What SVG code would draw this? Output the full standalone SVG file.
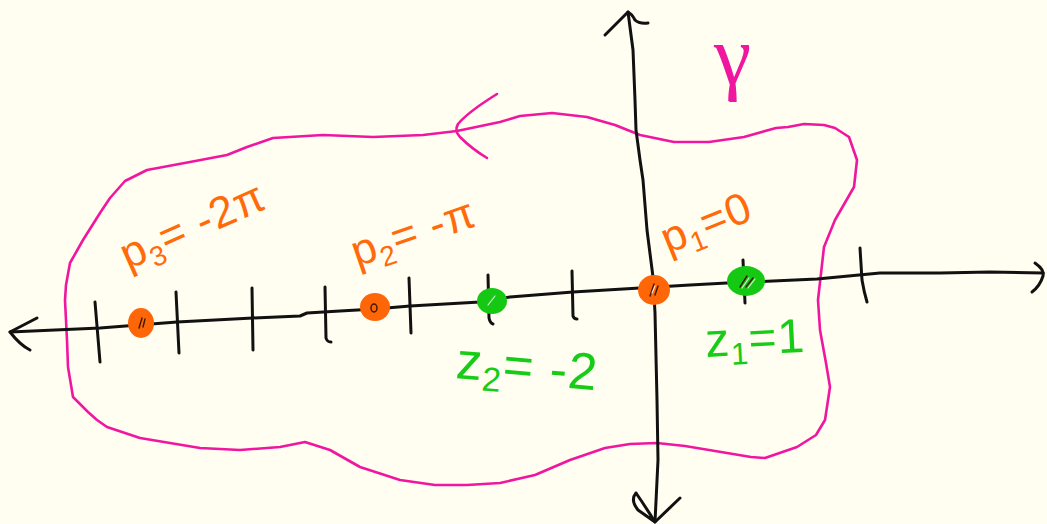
<svg xmlns="http://www.w3.org/2000/svg" width="1047" height="524" viewBox="0 0 1047 524">
<style>
.ink{fill:none;stroke:#111;stroke-width:3;stroke-linecap:round;stroke-linejoin:round}
.mag{fill:none;stroke:#F0169F;stroke-width:2.6;stroke-linecap:round;stroke-linejoin:round}
.or{fill:#FF6A0A;font-family:"Liberation Sans",Arial,sans-serif;font-size:44px}
.gr{fill:#16CC16;font-family:"Liberation Sans",Arial,sans-serif}
.dotO{fill:#FF6608}
.dotG{fill:#14C814}
.hatch{fill:none;stroke:#3a1a00;stroke-width:1.4;stroke-linecap:round}
.hatchW{fill:none;stroke:#ffffff;stroke-width:1.2;stroke-linecap:round;opacity:0.8}
</style>
<rect width="1047" height="524" fill="#FFFEF1"/>

<g id="contour">
<path class="mag" d="M776,128 L744,137 L709,142 L674,142 L640,135 L615,125 L587,117 L552,113 L520,116 L500,122 L457,131 L423,135 L373,137 L323,135 L273,138 L247,147 L227,155 L190,162 L147,170 L125,181 L110,198 L100,213 L83,240 L70,263 L66,285 L65,300 L67,340 L68,367 L73,397 L88,412 L97,420 L107,427 L140,438 L200,448 L240,450 L280,447 L305,442 L330,450 L360,467 L400,480 L435,485 L467,485 L500,483 L535,475 L570,460 L605,448 L630,444 L657,443 L685,446 L709,450 L751,457 L765,458 L797,447 L816,435 L825,420 L830,387 L826,363 L820,330 L818,300 L824,247 L835,220 L854,187 L857,160 L849,137 L835,128 L824,125 L804,124 L788,127 L776,128 Z"/>
<path class="mag" d="M497,94 Q468,112 458,124 Q454,131 460,137 Q472,149 487,158"/>
</g>

<g id="gamma">
<text x="714" y="84" font-family="Liberation Serif, serif" font-size="84" fill="#F0169F">γ</text>
</g>

<g id="axes">
<path class="ink" d="M10,332 L100,328 L177,322 L253,318 L300,316 L307,313 L340,311 L375,309 L410,306 L480,302 L510,297 L573,292 L640,288 L690,285 L727,283 L817,279 L880,273 L940,273 L990,272 L1043,273"/>
<path class="ink" d="M37,318 L10,332 Q20,345 30,350"/>
<path class="ink" d="M1035,263 Q1045,270 1043,276 Q1040,286 1032,292"/>
<path class="ink" d="M628,12 L633,50 L635,100 L636,130 L640,160 L643,180 L647,230 L653,277 L655,313 L657,400 L658,460 L655,522"/>
<path class="ink" d="M605,35 L628,12 Q632,14 635,20 Q639,24 648,23"/>
<path class="ink" d="M680,498 L655,522 M636,493 Q630,500 638,510 L655,522 Q645,506 636,493"/>
<g id="ticks">
<path class="ink" d="M95,302 L100,362"/>
<path class="ink" d="M176,292 L179,353"/>
<path class="ink" d="M252,288 L253,350"/>
<path class="ink" d="M325,287 L326,338 Q327,342 331,342"/>
<path class="ink" d="M409,278 L411,333"/>
<path class="ink" d="M488,275 L489,318 Q490,323 493,324"/>
<path class="ink" d="M572,271 L573,316 Q574,319 577,319"/>
<path class="ink" d="M743,260 L745,303"/>
<path class="ink" d="M860,248 L862,280 Q864,292 867,302"/>
</g>
</g>

<g id="p3">
<ellipse class="dotO" cx="141" cy="323" rx="13" ry="15"/>
<path class="hatch" d="M139,328 L142,318 M143,327 L145,319"/>
<text class="or" letter-spacing="1" transform="translate(128,270) rotate(-24)">p<tspan font-size="28" dy="9">3</tspan><tspan dy="-9">= -2π</tspan></text>
</g>

<g id="p2">
<ellipse class="dotO" cx="375" cy="307" rx="15" ry="14"/>
<ellipse class="hatch" cx="374" cy="308" rx="3" ry="4"/>
<text class="or" letter-spacing="1" transform="translate(357,267) rotate(-19)">p<tspan font-size="28" dy="9">2</tspan><tspan dy="-9">= -π</tspan></text>
</g>

<g id="z2">
<ellipse class="dotG" cx="492" cy="301" rx="15" ry="13"/>
<path class="hatchW" d="M488,305 L495,296"/>
<text class="gr" font-size="52" letter-spacing="1" transform="translate(455,378) rotate(5)">z<tspan font-size="34" dy="10">2</tspan><tspan dy="-10">= -2</tspan></text>
</g>

<g id="p1">
<ellipse class="dotO" cx="654" cy="290" rx="16" ry="15"/>
<path class="hatch" d="M650,296 L654,284 M655,295 L658,286"/>
<path class="hatchW" d="M652,293 L655,286"/>
<text class="or" letter-spacing="1" transform="translate(668,254) rotate(-22)">p<tspan font-size="28" dy="9">1</tspan><tspan dy="-9">=0</tspan></text>
</g>

<g id="z1">
<ellipse class="dotG" cx="746" cy="281" rx="19" ry="15"/>
<path class="hatch" d="M740,287 L747,276 M746,287 L753,278"/>
<path class="hatchW" d="M742,288 L749,278 M748,288 L755,279"/>
<text class="gr" font-size="48" letter-spacing="1" transform="translate(706,357) rotate(-3)">z<tspan font-size="31" dy="9">1</tspan><tspan dy="-9">=1</tspan></text>
</g>
</svg>
